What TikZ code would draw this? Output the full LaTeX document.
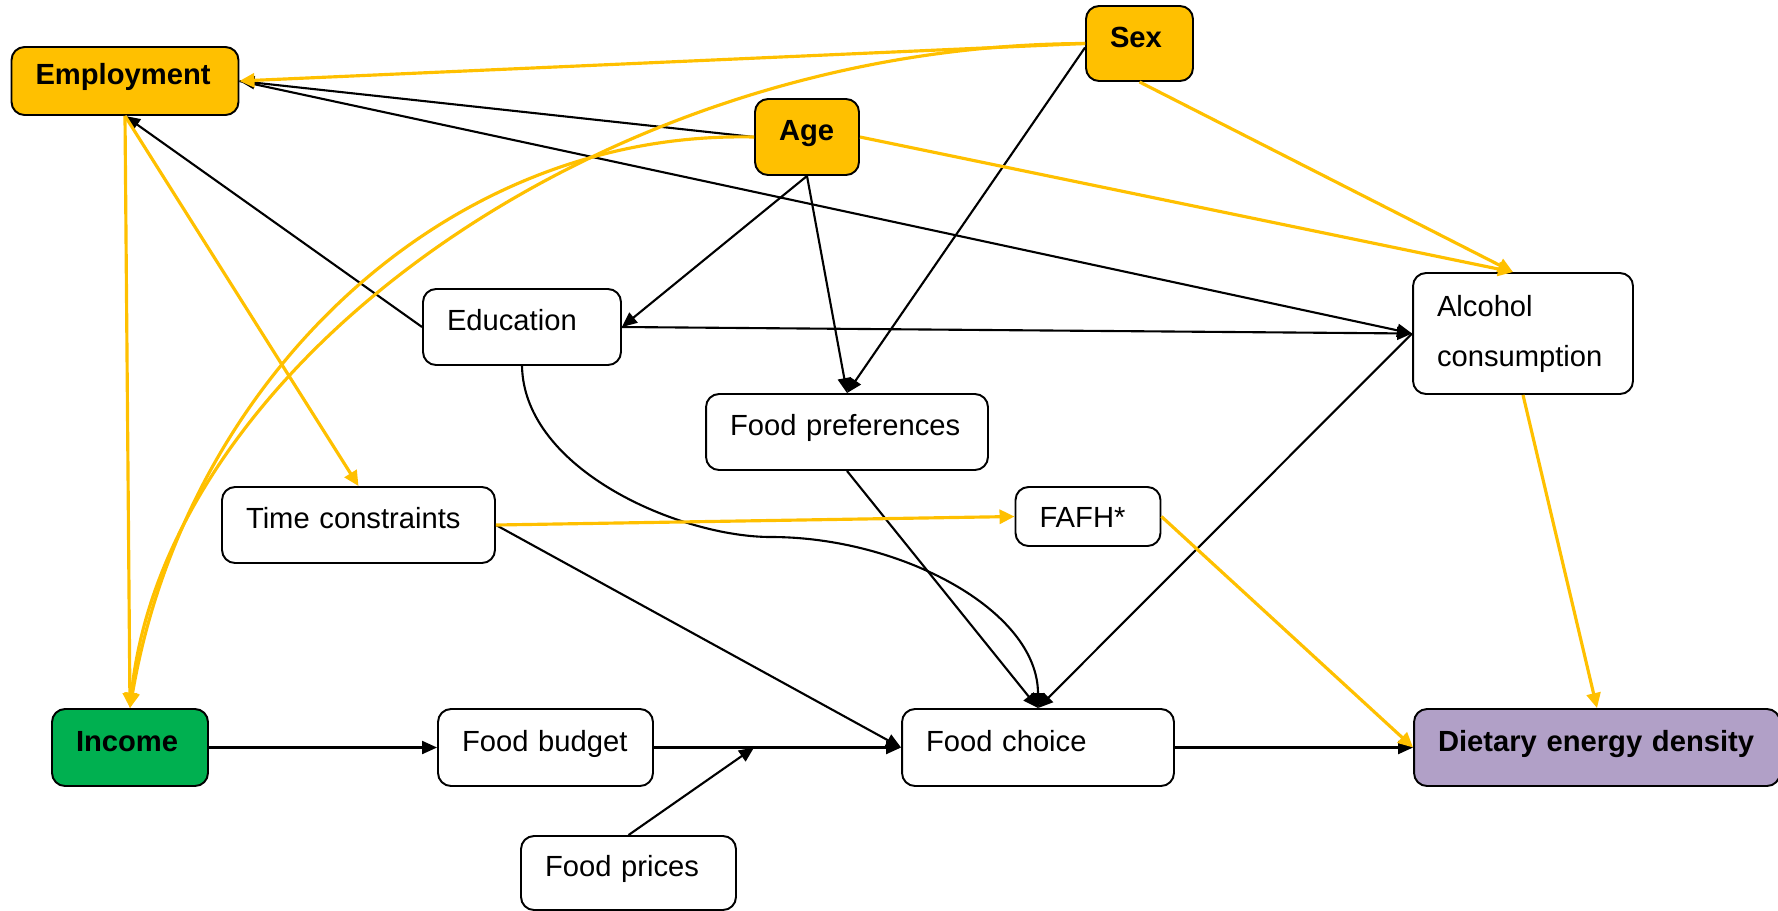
\documentclass[tikz,border=0pt]{standalone}
\usepackage{fontspec}
\setmainfont{Liberation Sans}
\usetikzlibrary{arrows.meta,calc}
\definecolor{amber}{HTML}{FFC000}
\definecolor{leaf}{HTML}{00B050}
\definecolor{lilac}{HTML}{B1A0C7}

\begin{document}
\begin{tikzpicture}[x=0.02cm, y=-0.02cm,
  frame/.style={draw, line width=1.1pt, rounded corners=0.26cm, align=left,
    inner xsep=0.48cm, inner ysep=0pt, font=\fontsize{16.6}{20}\selectfont},
  box/.style={frame, text height=0.4cm, text depth=0.26cm},
  keybox/.style={box, font=\fontsize{16.6}{20}\selectfont\bfseries},
  link/.style={draw=black, line width=1.2pt, -{Triangle[length=0.3cm,width=0.26cm]}},
  glow/.style={draw=amber, line width=1.8pt, -{Triangle[length=0.3cm,width=0.28cm]}}
]
\useasboundingbox (0,0) rectangle (1778,910);

% factors
\node[keybox, fill=amber, text width=3.58cm, minimum height=1.36cm] (emp) at (125,81) {Employment};
\node[keybox, fill=amber, text width=1.18cm, minimum height=1.5cm] (sex) at (1139.5,43.5) {Sex};
\node[keybox, fill=amber, text width=1.12cm, minimum height=1.52cm] (age) at (807,137) {Age};
\node[box, text width=3.0cm, minimum height=1.52cm] (edu) at (522,327) {Education};
\node[frame, text width=3.44cm, minimum height=2.42cm,
      font=\fontsize{16.6}{28.45}\selectfont] (alc) at (1523,333.5) {Alcohol\\consumption};
\node[box, text width=4.68cm, minimum height=1.52cm] (pref) at (847,432) {Food preferences};
\node[box, text width=4.5cm, minimum height=1.52cm] (time) at (358.5,525) {Time constraints};
\node[frame, text width=1.94cm, minimum height=1.18cm, text height=0.42cm, text depth=0cm] (fafh) at (1088,516.5) {FAFH*};
\node[keybox, fill=leaf, text width=2.16cm, minimum height=1.54cm] (inc) at (130,747.5) {Income};
\node[box, text width=3.34cm, minimum height=1.54cm] (budget) at (545.5,747.5) {Food budget};
\node[box, text width=3.34cm, minimum height=1.48cm] (prices) at (628.5,873) {Food prices};
\node[box, text width=4.48cm, minimum height=1.54cm] (choice) at (1038,747.5) {Food choice};
\node[keybox, fill=lilac, text width=6.36cm, minimum height=1.54cm] (ded) at (1597,747.5) {Dietary energy density};

% black pathways
\draw[link] (age.west) -- (emp.east);
\draw[link] (emp.east) -- (alc.west);
\draw[link] (edu.west) -- (emp.south);
\draw[link] (age.south) -- (edu.east);
\draw[link] (age.south) -- (pref.north);
\draw[link] ([yshift=-0.08cm]sex.west) -- (pref.north);
\draw[link] (edu.east) -- (alc.west);
\draw[link] (edu.south) .. controls (524,470) and (680,537) .. (771,537)
                        .. controls (900,537) and (1038,610) .. (choice.north);
\draw[link] (pref.south) -- (choice.north);
\draw[link] (alc.west) -- (choice.north);
\draw[link] (time.east) -- (choice.west);
\draw[link] (inc.east) -- (budget.west);
\draw[link] (budget.east) -- (choice.west);
\coordinate (join) at ($(budget.east)!0.405!(choice.west)$);
\draw[link] (prices.north) -- (join);
\draw[link] (choice.east) -- (ded.west);

% yellow pathways
\draw[glow] (sex.west) -- (emp.east);
\draw[glow] (sex.west) .. controls (600,45) and (165,365) .. (inc.north);
\draw[glow] (age.west) .. controls (440,130) and (185,385) .. (inc.north);
\draw[glow] (age.east) -- ([xshift=-0.2cm]alc.north);
\draw[glow] (sex.south) -- ([xshift=-0.2cm]alc.north);
\draw[glow] (emp.south) -- (inc.north);
\draw[glow] (emp.south) -- (time.north);
\draw[glow] (time.east) -- (fafh.west);
\draw[glow] (fafh.east) -- (ded.west);
\draw[glow] (alc.south) -- (ded.north);
\end{tikzpicture}
\end{document}
